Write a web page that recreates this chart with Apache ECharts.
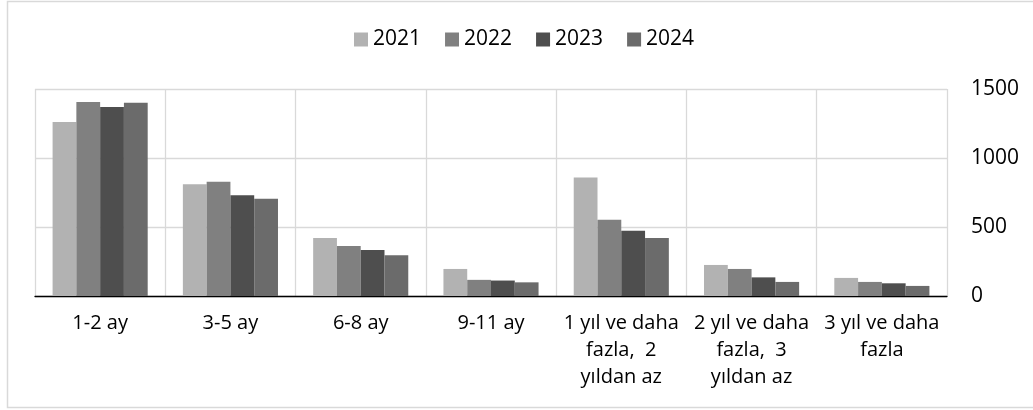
<!DOCTYPE html>
<html>
<head>
<meta charset="utf-8">
<script src="https://cdn.jsdelivr.net/npm/echarts@6/dist/echarts.min.js"></script>
<style>
    html, body { margin: 0; padding: 0; background: #fff; }
    #chart { width: 1033px; height: 410px; }
</style>
</head>
<body>
<div id="chart"></div>
<script>
// kategoriler ve yıllara göre değerler
var categories = ['1-2 ay', '3-5 ay', '6-8 ay', '9-11 ay',
    '1 yıl ve daha\nfazla,  2\nyıldan az', '2 yıl ve daha\nfazla,  3\nyıldan az', '3 yıl ve daha\nfazla'];
var years = ['2021', '2022', '2023', '2024'];
var values2021 = [1260, 810, 421, 196, 859, 225, 131];
var values2022 = [1405, 827, 363, 117, 552, 196, 102];
var values2023 = [1369, 730, 334, 112, 472, 135, 92];
var values2024 = [1401, 704, 295, 99, 421, 102, 73];
var yTicks = [0, 500, 1000, 1500];

var colors = ['#b2b2b2', '#808080', '#4e4e4e', '#6b6b6b'];
var font = '"Open Sans", "Noto Sans", sans-serif';

var myChart = echarts.init(document.getElementById('chart'));
var seriesData = [values2021, values2022, values2023, values2024];

var option = {
    animation: false,
    color: colors,
    textStyle: { fontFamily: font, color: '#000' },
    graphic: [{
        type: 'rect',
        shape: { x: 7.5, y: 1.5, width: 1040, height: 406 },
        style: { fill: 'none', stroke: '#d9d9d9', lineWidth: 1.5 },
        silent: true
    }],
    legend: {
        top: 24,
        left: 349,
        itemWidth: 14,
        itemHeight: 14,
        itemGap: 24,
        icon: 'rect',
        textStyle: { fontSize: 21, color: '#000', fontFamily: font },
        data: years
    },
    grid: {
        left: 35,
        right: 86,
        top: 89,
        bottom: 114,
        containLabel: false
    },
    xAxis: {
        type: 'category',
        data: categories,
        axisTick: { show: false },
        axisLine: { lineStyle: { color: '#000', width: 1.3 } },
        splitLine: { show: true, interval: 0, lineStyle: { color: '#d9d9d9', width: 1.3 } },
        axisLabel: {
            interval: 0,
            margin: 14,
            fontSize: 20,
            lineHeight: 27,
            color: '#000',
            fontFamily: font
        }
    },
    yAxis: {
        type: 'value',
        position: 'right',
        min: yTicks[0],
        max: yTicks[yTicks.length - 1],
        interval: 500,
        axisLine: { show: false },
        axisTick: { show: false },
        splitLine: { lineStyle: { color: '#d9d9d9', width: 1.3 } },
        axisLabel: {
            margin: 24,
            fontSize: 21,
            color: '#000',
            fontFamily: font,
            formatter: function(v) { return String(v); }
        }
    },
    series: years.map(function(y, i) {
        return {
            name: y,
            type: 'bar',
            data: seriesData[i],
            barGap: '0%',
            barCategoryGap: '27%'
        };
    })
};

myChart.setOption(option);
</script>
</body>
</html>
